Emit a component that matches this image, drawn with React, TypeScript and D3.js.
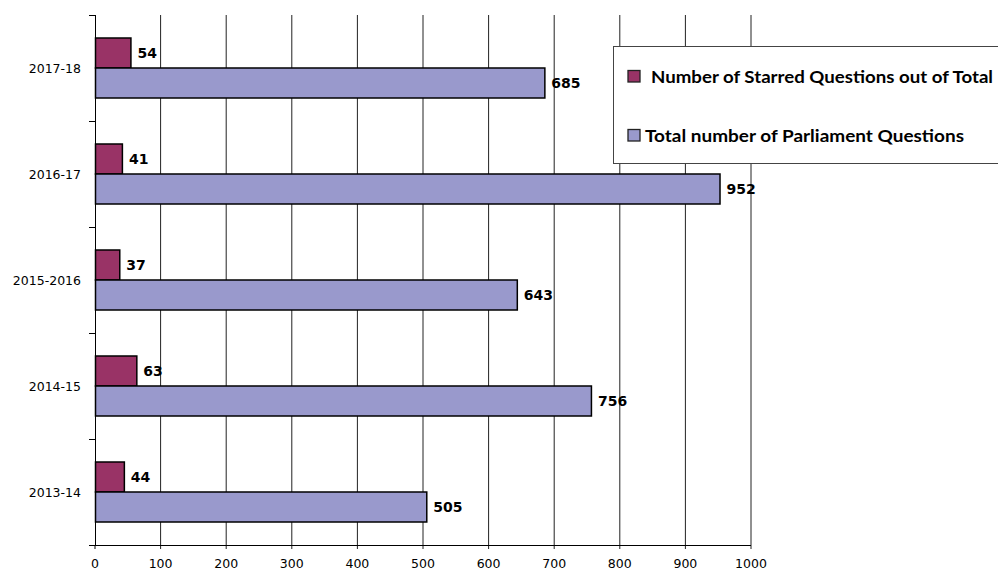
import React from "react";
import * as d3 from "d3";

const categories = ["2017-18", "2016-17", "2015-2016", "2014-15", "2013-14"];
const starred = [54, 41, 37, 63, 44];
const total = [685, 952, 643, 756, 505];
const xTicks = [0, 100, 200, 300, 400, 500, 600, 700, 800, 900, 1000];
const seriesNames = ["Number of Starred Questions out of Total", "Total number of Parliament Questions"];
const seriesColors = ["#993366", "#9999CC"];

export default function App() {
  const W = 998, H = 571;
  const left = 95, right = 751, top = 15, bottom = 545;
  const x = d3.scaleLinear().domain([0, 1000]).range([left, right]);
  const y = d3.scaleBand<string>().domain(categories).range([top, bottom]);
  const barH = 30;
  const band = y.bandwidth();
  const catFont = "'DejaVu Sans', Verdana, sans-serif";
  const boundaries = d3.range(categories.length + 1).map((i) => top + i * band);

  return (
    <svg width={W} height={H} style={{ position: "absolute", left: 0, top: 0, background: "#fff" }}>
      <rect x={0} y={0} width={W} height={H} fill="#fff" />
      {/* gridlines */}
      {xTicks.slice(1).map((t) => (
        <line key={"g" + t} x1={x(t)} x2={x(t)} y1={top} y2={bottom + 4} stroke="#222" strokeWidth={1} />
      ))}
      {/* x axis */}
      <line x1={left - 6} x2={right} y1={bottom + 0.5} y2={bottom + 0.5} stroke="#000" strokeWidth={1} />
      <line x1={left} x2={left} y1={bottom} y2={bottom + 4} stroke="#000" />
      {xTicks.map((t) => (
        <text key={"xt" + t} x={x(t)} y={567.5} textAnchor="middle" fontFamily={catFont} fontSize={12.5} fill="#000">
          {t}
        </text>
      ))}
      {/* y axis */}
      <line x1={left + 0.5} x2={left + 0.5} y1={top} y2={bottom} stroke="#000" strokeWidth={1} />
      {boundaries.map((b, i) => (
        <line key={"yt" + i} x1={left - 6} x2={left} y1={b + 0.5} y2={b + 0.5} stroke="#000" />
      ))}
      {categories.map((c) => (
        <text key={"c" + c} x={81} y={(y(c) as number) + band / 2} dy="0.36em" textAnchor="end" fontFamily={catFont} fontSize={12.5} fill="#000">
          {c}
        </text>
      ))}
      {/* bars */}
      {categories.map((c, i) => {
        const cy = (y(c) as number) + band / 2;
        return (
          <g key={"b" + c}>
            <rect x={x(0) + 0.5} y={cy - barH} width={x(starred[i]) - x(0)} height={barH} fill={seriesColors[0]} stroke="#000" strokeWidth={1.5} />
            <rect x={x(0) + 0.5} y={cy} width={x(total[i]) - x(0)} height={barH} fill={seriesColors[1]} stroke="#000" strokeWidth={1.5} />
            <text x={x(starred[i]) + 7} y={cy - barH / 2} dy="0.36em" fontFamily={catFont} fontWeight="bold" fontSize={14} fill="#000">
              {starred[i]}
            </text>
            <text x={x(total[i]) + 7} y={cy + barH / 2} dy="0.36em" fontFamily={catFont} fontWeight="bold" fontSize={14} fill="#000">
              {total[i]}
            </text>
          </g>
        );
      })}
      {/* legend */}
      <rect x={613.5} y={46.5} width={400} height={117} fill="#fff" stroke="#444" strokeWidth={1} />
      <rect x={628} y={70.5} width={12} height={11.5} fill={seriesColors[0]} stroke="#222" strokeWidth={1.3} />
      <text x={651} y={76.5} dy="0.36em" fontFamily="Lato, sans-serif" fontWeight="bold" fontSize={17} textLength={342} lengthAdjust="spacingAndGlyphs" fill="#000">
        {seriesNames[0]}
      </text>
      <rect x={628} y={129.5} width={12} height={11.5} fill={seriesColors[1]} stroke="#222" strokeWidth={1.3} />
      <text x={645} y={135.5} dy="0.36em" fontFamily="Lato, sans-serif" fontWeight="bold" fontSize={17} textLength={319} lengthAdjust="spacingAndGlyphs" fill="#000">
        {seriesNames[1]}
      </text>
    </svg>
  );
}
